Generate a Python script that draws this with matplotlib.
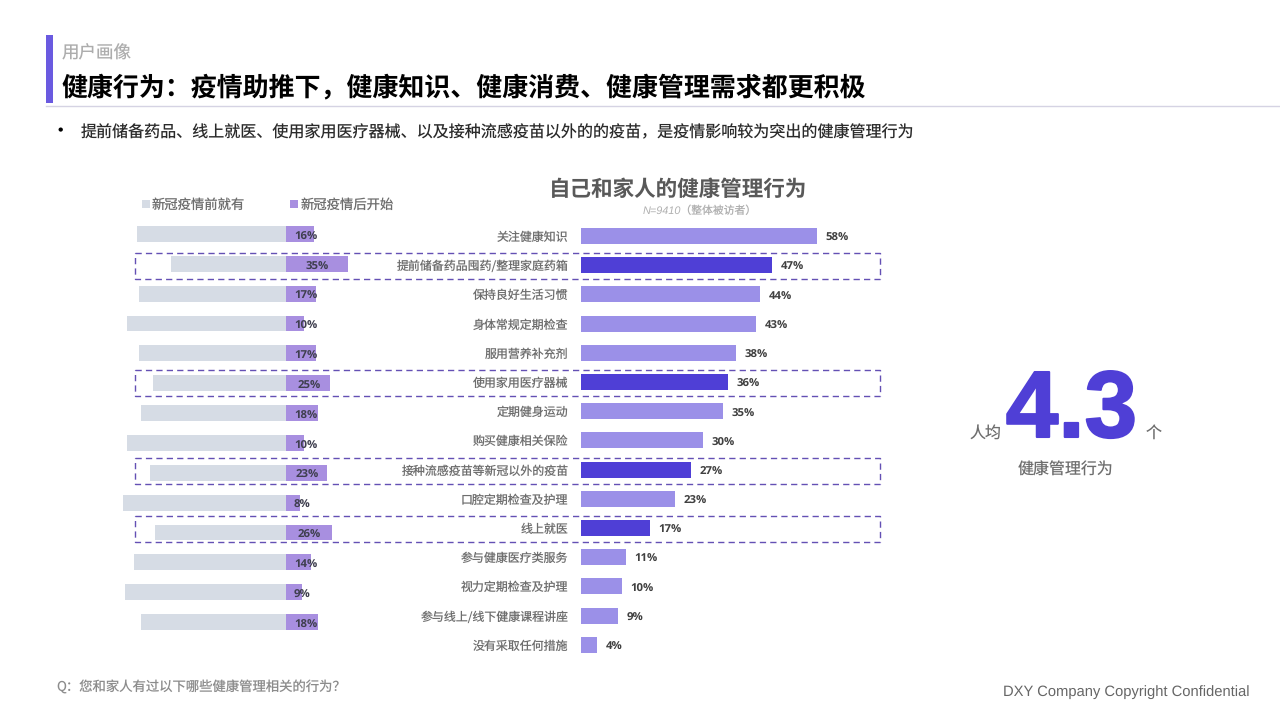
#!/usr/bin/env python
import matplotlib
matplotlib.use('Agg')
from matplotlib import pyplot as plt
from matplotlib import patheffects
from matplotlib.patches import Rectangle

plt.rcParams['font.family'] = ['Noto Sans CJK SC', 'DejaVu Sans']
plt.rcParams['text.hinting'] = 'no_hinting'

W, H = 1280, 720

behaviors = ['关注健康知识', '提前储备药品囤药/整理家庭药箱', '保持良好生活习惯', '身体常规定期检查',
             '服用营养补充剂', '使用家用医疗器械', '定期健身运动', '购买健康相关保险',
             '接种流感疫苗等新冠以外的疫苗', '口腔定期检查及护理', '线上就医', '参与健康医疗类服务',
             '视力定期检查及护理', '参与线上/线下健康课程讲座', '没有采取任何措施']
share = [58, 47, 44, 43, 38, 36, 35, 30, 27, 23, 17, 11, 10, 9, 4]
after_covid = [16, 35, 17, 10, 17, 25, 18, 10, 23, 8, 26, 14, 9, 18]
before_covid = [84, 65, 83, 90, 83, 75, 82, 90, 77, 92, 74, 86, 91, 82]
highlight = [1, 5, 8, 10]

GREY_BAR = '#D6DCE5'
PURPLE = '#A88FE0'
LIGHT = '#9B90E8'
DARK = '#4F3FD6'
BOX = '#6450B4'
LABEL = '#6E6E6E'


def px_axes(fig, x0, y0, x1, y1):
    # pixel box (y down) to figure axes
    ax = fig.add_axes([x0/W, 1-y1/H, (x1-x0)/W, (y1-y0)/H])
    ax.patch.set_alpha(0)
    for s in ax.spines.values():
        s.set_visible(False)
    return ax


fig = plt.figure(figsize=(W/100, H/100), dpi=100)

# page furniture, in pixels
bg = px_axes(fig, 0, 0, W, H)
bg.set_xlim(0, W)
bg.set_ylim(H, 0)
bg.axis('off')
bg.add_patch(Rectangle((46, 35), 7, 68, color='#6A5AE0', lw=0))
bg.plot([46, 1280], [105.5, 105.5], color='#D5D3E3', lw=1)
bg.text(61.5, 53.5, '用户画像', fontsize=12.6, color='#ADADAD', va='center')
bg.text(61.5, 87.5, '健康行为：疫情助推下，健康知识、健康消费、健康管理需求都更积极', fontsize=18.7,
        fontweight='bold', color='black', va='center')
bg.text(51, 132, '•', fontsize=14, color='black', va='center')
bg.text(81, 133, '提前储备药品、线上就医、使用家用医疗器械、以及接种流感疫苗以外的的疫苗，是疫情影响较为突出的健康管理行为',
        fontsize=11.55, color='#2A2A2A', va='center')

bg.text(678, 190, '自己和家人的健康管理行为', fontsize=15.5, fontweight='bold', color='#595959',
        ha='center', va='center')
bg.text(700, 211, 'N=9410（整体被访者）', fontsize=7.8, style='italic', color='#B0B0B0',
        ha='center', va='center', family=['Liberation Sans', 'Noto Sans CJK SC'])

# legend
bg.add_patch(Rectangle((141.5, 200), 8, 8, color=GREY_BAR, lw=0))
bg.text(152, 205, '新冠疫情前就有', fontsize=9.6, color=LABEL, va='center')
bg.add_patch(Rectangle((289.5, 200), 8, 8, color=PURPLE, lw=0))
bg.text(301, 205, '新冠疫情后开始', fontsize=9.6, color=LABEL, va='center')

# left diverging bars
left = px_axes(fig, 286-100*1.77, 234-0.5*29.85, 286+40*1.77, 234+13.5*29.85)
left.set_xlim(-100, 40)
left.set_ylim(13.5, -0.5)
left.axis('off')
rows = range(len(after_covid))
left.barh(rows, [-v for v in before_covid], height=0.53, color=GREY_BAR)
left.barh(rows, after_covid, height=0.53, color=PURPLE)
for i, v in enumerate(after_covid):
    left.text(max(4.5, v/2-6.2), i+0.09, '%d%%' % v, fontsize=8.2, fontweight='bold', color='#3F3F4F',
              ha='left', va='center', family=['Open Sans'])

# right ranking bars
right = px_axes(fig, 581, 236-0.5*29.2, 581+60*4.07, 236+14.5*29.2)
right.set_xlim(0, 60)
right.set_ylim(14.5, -0.5)
rows = range(len(share))
colors = [DARK if i in highlight else LIGHT for i in rows]
right.barh(rows, share, height=0.55, color=colors)
right.set_xticks([])
right.set_yticks(list(rows))
right.set_yticklabels(behaviors, fontsize=8.6, color=LABEL)
right.tick_params(axis='y', length=0, pad=9)
for i, v in enumerate(share):
    right.text(v+2.1, i+0.08, '%d%%' % v, fontsize=8.2, fontweight='bold', color='#404040',
               ha='left', va='center', family=['Open Sans'])

# dashed boxes round the highlighted rows
for i in highlight:
    yc = 236+29.2*i+1
    bg.add_patch(Rectangle((135, yc-13), 745, 26, fill=False, ec=BOX, lw=1, ls=(0, (4.5, 3))))

# callout
bg.text(986, 433, '人均', fontsize=11.5, color=LABEL, ha='center', va='center')
num = bg.text(1071.5, 437, '4.3', fontsize=68, fontweight='bold', color=DARK, ha='center', va='baseline',
              family=['Liberation Sans'])
num.set_path_effects([patheffects.withStroke(linewidth=1.5, foreground=DARK)])
bg.text(1154, 433, '个', fontsize=11.5, color=LABEL, ha='center', va='center')
bg.text(1065.5, 470, '健康管理行为', fontsize=11.5, color=LABEL, ha='center', va='center')

# footer
bg.text(56, 688, 'Q：您和家人有过以下哪些健康管理相关的行为？', fontsize=9.6, color='#8C8C8C', va='center')
bg.text(1250, 692, 'DXY Company Copyright Confidential', fontsize=10.6, color='#666666', ha='right', va='center',
        family=['Liberation Sans'])

fig.savefig('out.png', dpi=100)
